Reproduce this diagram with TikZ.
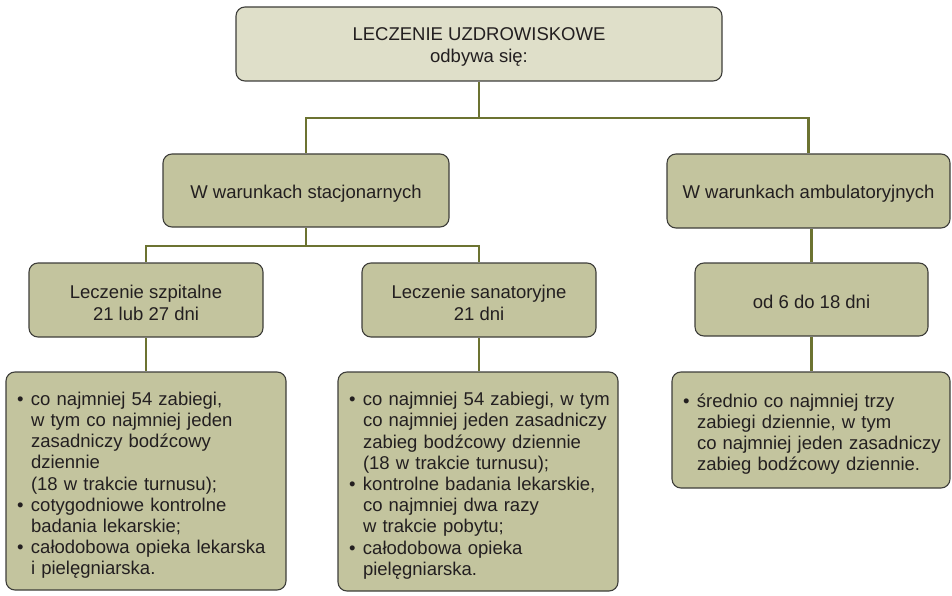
\documentclass[tikz,border=0pt]{standalone}
\usepackage{fontspec}
\setmainfont{Liberation Sans}
\definecolor{boxfill}{HTML}{C3C49E}
\definecolor{topfill}{HTML}{DFDFC9}
\definecolor{boxline}{HTML}{3E3E3A}
\definecolor{conncol}{HTML}{6C7331}
\definecolor{txtcol}{HTML}{231F20}
\newcommand{\lfirst}[1]{\mbox{\rule{0pt}{22pt}\makebox[14pt][l]{\textbullet}#1}}
\newcommand{\litem}[1]{\mbox{\makebox[14pt][l]{\textbullet}#1}}
\newcommand{\lcont}[1]{\mbox{\hspace*{14pt}#1}}
\newcommand{\hs}{\rule{0pt}{19pt}}
\tikzset{
  box/.style={draw=boxline, fill=boxfill, line width=1.1pt, rounded corners=9pt,
    text=txtcol, font=\fontsize{18.5}{21.2}\selectfont, inner sep=0pt, align=center},
  listbox/.style={box, align=left, inner xsep=11pt},
  conn/.style={draw=conncol, line width=2.1pt}
}
\begin{document}
\begin{tikzpicture}[x=1pt,y=-1pt]
\useasboundingbox (0,0) rectangle (952,596);
% boxes
\node[box, fill=topfill, minimum width=486pt, minimum height=74pt] (top) at (479,44)
  {\hs LECZENIE UZDROWISKOWE\\odbywa się:};
\node[box, minimum width=286pt, minimum height=73pt] (stac) at (306,190.5)
  {\hs W warunkach stacjonarnych};
\node[box, minimum width=283pt, minimum height=74pt] (amb) at (808.5,191)
  {\hs W warunkach ambulatoryjnych};
\node[box, minimum width=234pt, minimum height=74pt] (szp) at (146,300)
  {\hs Leczenie szpitalne\\21 lub 27 dni};
\node[box, minimum width=234pt, minimum height=74pt] (san) at (479,300)
  {\hs Leczenie sanatoryjne\\21 dni};
\node[box, minimum width=233pt, minimum height=73pt] (od) at (811.5,299.5)
  {\hs od 6 do 18 dni};
\node[listbox, text width=258pt, minimum height=218pt] (bl) at (146,481)
  {\lfirst{co najmniej 54 zabiegi,}\\
   \lcont{w tym co najmniej jeden}\\
   \lcont{zasadniczy bodźcowy}\\
   \lcont{dziennie}\\
   \lcont{(18 w trakcie turnusu);}\\
   \litem{cotygodniowe kontrolne}\\
   \lcont{badania lekarskie;}\\
   \litem{całodobowa opieka lekarska}\\
   \lcont{i pielęgniarska.}};
\node[listbox, text width=258pt, minimum height=219pt] (bm) at (478,481.5)
  {\lfirst{co najmniej 54 zabiegi, w tym}\\
   \lcont{co najmniej jeden zasadniczy}\\
   \lcont{zabieg bodźcowy dziennie}\\
   \lcont{(18 w trakcie turnusu);}\\
   \litem{kontrolne badania lekarskie,}\\
   \lcont{co najmniej dwa razy}\\
   \lcont{w trakcie pobytu;}\\
   \litem{całodobowa opieka}\\
   \lcont{pielęgniarska.}};
\node[listbox, text width=256pt, minimum height=116pt] (br) at (811,430)
  {\lfirst{średnio co najmniej trzy}\\
   \lcont{zabiegi dziennie, w tym}\\
   \lcont{co najmniej jeden zasadniczy}\\
   \lcont{zabieg bodźcowy dziennie.}};
% connectors
\coordinate (j1) at (479,118);
\coordinate (j2) at (306,246);
\draw[conn] (top.south) -- (j1);
\draw[conn] (stac.north) |- (j1) -| (amb.north);
\draw[conn] (stac.south) -- (j2);
\draw[conn] (szp.north) |- (j2) -| (san.north);
\draw[conn] (szp.south) -- (szp.south |- bl.north);
\draw[conn] (san.south) -- (san.south |- bm.north);
\draw[conn] (od.north) -- (od.north |- amb.south);
\draw[conn] (od.south) -- (od.south |- br.north);
\end{tikzpicture}
\end{document}
